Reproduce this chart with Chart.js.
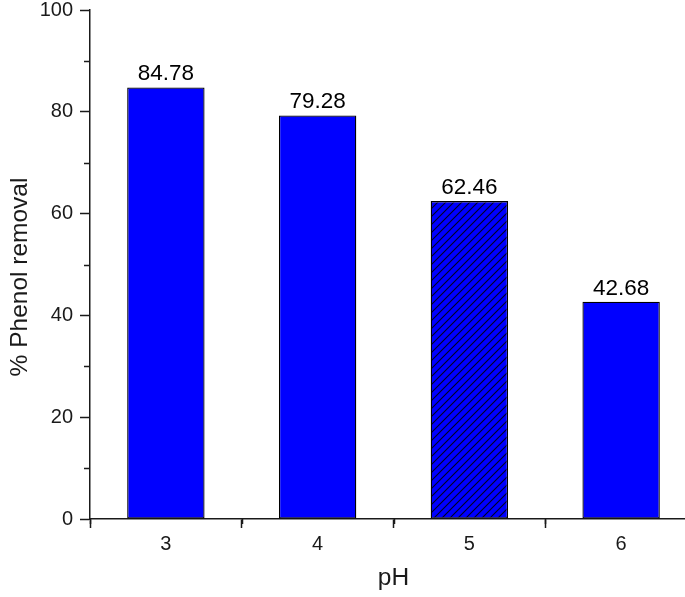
<!DOCTYPE html>
<html>
<head>
<meta charset="utf-8">
<script src="https://cdn.jsdelivr.net/npm/chart.js@4.4.0/dist/chart.umd.min.js"></script>
<style>
    html, body { margin: 0; padding: 0; background: #fff; overflow: hidden; }
    #wrap { width: 700px; height: 597px; position: relative; }
</style>
</head>
<body>
<div id="wrap"><canvas id="chart"></canvas></div>
<script>
// Data
const phLabels = ['3', '4', '5', '6'];
const removal = [84.78, 79.28, 62.46, 42.68];
const valueLabels = ['84.78', '79.28', '62.46', '42.68'];
const hatchedIndex = 2;
const yMinorTicks = [10, 30, 50, 70, 90];

const FONT = '"Liberation Sans", Arial, sans-serif';
const INK = '#1a1a1a';

// Hatch pattern for the pH 5 bar
function makeHatch() {
    const c = document.createElement('canvas');
    c.width = 8;
    c.height = 8;
    const g = c.getContext('2d');
    g.fillStyle = '#0000ff';
    g.fillRect(0, 0, 8, 8);
    g.strokeStyle = '#000022';
    g.lineWidth = 1.1;
    g.beginPath();
    g.moveTo(-1, 9); g.lineTo(9, -1);
    g.moveTo(-1, 1); g.lineTo(1, -1);
    g.moveTo(7, 9); g.lineTo(9, 7);
    g.stroke();
    return g.createPattern(c, 'repeat');
}

const ctx = document.getElementById('chart').getContext('2d');
const hatch = makeHatch();
const barColors = removal.map((v, i) => i === hatchedIndex ? hatch : '#0000ff');

// Minor ticks, value labels and axis titles
const extrasPlugin = {
    id: 'extras',
    afterDatasetsDraw(chart) {
        const c = chart.ctx;
        const meta = chart.getDatasetMeta(0);
        c.save();
        c.fillStyle = '#000';
        c.font = '22.5px ' + FONT;
        c.textAlign = 'center';
        c.textBaseline = 'alphabetic';
        meta.data.forEach((bar, i) => {
            c.fillText(valueLabels[i], bar.x, bar.y - 7);
        });
        c.restore();
    },
    afterDraw(chart) {
        const c = chart.ctx;
        const x = chart.scales.x;
        const y = chart.scales.y;
        const area = chart.chartArea;
        c.save();
        c.strokeStyle = INK;
        c.lineWidth = 1.5;
        c.beginPath();
        yMinorTicks.forEach(v => {
            const py = Math.round(y.getPixelForValue(v)) + 0.5;
            c.moveTo(area.left - 6, py);
            c.lineTo(area.left, py);
        });
        for (let i = 0; i <= phLabels.length - 1; i++) {
            const px = Math.round(x.getPixelForValue(i - 0.5)) + 0.5;
            c.moveTo(px, area.bottom);
            c.lineTo(px, area.bottom + 5);
        }
        c.stroke();

        c.fillStyle = INK;
        c.font = '24.5px ' + FONT;
        c.textAlign = 'center';
        c.textBaseline = 'middle';
        c.fillText('pH', (area.left + area.right) / 2, 578);
        c.translate(20, 277);
        c.rotate(-Math.PI / 2);
        c.fillText('% Phenol removal', 0, 0);
        c.restore();
    }
};

new Chart(ctx, {
    type: 'bar',
    data: {
        labels: phLabels,
        datasets: [{
            data: removal,
            backgroundColor: barColors,
            borderColor: '#000',
            borderWidth: 1.3,
            borderSkipped: false,
            categoryPercentage: 1,
            barPercentage: 0.51
        }]
    },
    options: {
        responsive: true,
        maintainAspectRatio: false,
        animation: false,
        layout: { padding: { top: 10, right: 3, left: 0, bottom: 0 } },
        plugins: {
            legend: { display: false },
            tooltip: { enabled: false }
        },
        scales: {
            x: {
                offset: true,
                grid: {
                    drawOnChartArea: false,
                    drawTicks: true,
                    tickLength: 9,
                    tickWidth: 1.5,
                    tickColor: INK
                },
                border: { display: true, color: INK, width: 1.5 },
                ticks: {
                    color: INK,
                    padding: 6,
                    font: { family: FONT, size: 20, lineHeight: 1 }
                },
                afterFit(scale) {
                    scale.height = 78;
                    scale.paddingLeft = 0;
                    scale.paddingRight = 0;
                }
            },
            y: {
                min: 0,
                max: 100,
                grid: {
                    drawOnChartArea: false,
                    drawTicks: true,
                    tickLength: 10,
                    tickWidth: 1.5,
                    tickColor: INK
                },
                border: { display: true, color: INK, width: 1.5 },
                ticks: {
                    stepSize: 20,
                    color: INK,
                    padding: 7,
                    font: { family: FONT, size: 20, lineHeight: 1 }
                },
                afterFit(scale) {
                    scale.width = 90;
                    scale.paddingTop = 0;
                    scale.paddingBottom = 0;
                }
            }
        }
    },
    plugins: [extrasPlugin]
});
</script>
</body>
</html>
